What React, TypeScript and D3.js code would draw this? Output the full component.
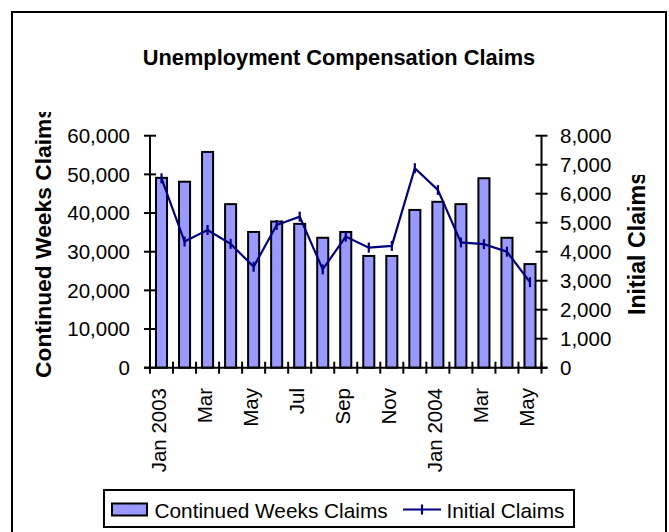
import React from "react";
import * as d3 from "d3";

const months = [
  "Jan 2003", "Feb", "Mar", "Apr", "May", "Jun", "Jul", "Aug", "Sep", "Oct", "Nov", "Dec",
  "Jan 2004", "Feb", "Mar", "Apr", "May",
];
const continuedWeeks = [
  49100, 48100, 55800, 42300, 35100, 37800, 37200, 33600, 35100, 28900, 28900, 40800,
  42900, 42300, 49000, 33600, 26800,
];
const initialClaims = [
  6530, 4350, 4750, 4270, 3480, 4920, 5210, 3390, 4520, 4140, 4200, 6880,
  6130, 4320, 4260, 4000, 2950,
];
const leftTicks = [0, 10000, 20000, 30000, 40000, 50000, 60000];
const rightTicks = [0, 1000, 2000, 3000, 4000, 5000, 6000, 7000, 8000];

const W = 669;
const H = 532;
const FONT = "'Liberation Sans', Arial, Helvetica, sans-serif";

export default function App() {
  const x0 = 150, x1 = 541.5, yTop = 135.7, yBot = 367.7;
  const idx = months.map((_, i) => i);
  const x = d3.scaleBand<number>().domain(idx).range([x0, x1]).paddingInner(0.52).paddingOuter(0.26);
  const step = x.step();
  const cx = (i: number) => (x(i) as number) + x.bandwidth() / 2;
  const yL = d3.scaleLinear().domain([0, 60000]).range([yBot, yTop]);
  const yR = d3.scaleLinear().domain([0, 8000]).range([yBot, yTop]);
  const fmt = d3.format(",");
  const line = d3.line<number>().x((_, i) => cx(i)).y((d) => yR(d));
  const bounds = d3.range(months.length + 1).map((i) => x0 + i * step);

  return (
    <div style={{ position: "fixed", left: 0, top: 0 }}>
      <svg width={W} height={H} style={{ display: "block" }} fontFamily={FONT}>
        <defs>
          <clipPath id="clipL">
            <rect x={0} y={112} width={100} height={400} />
          </clipPath>
          <clipPath id="clipR">
            <rect x={600} y={175} width={69} height={300} />
          </clipPath>
        </defs>
        <rect x={0} y={0} width={W} height={H} fill="#fff" />
        <rect x={12} y={12} width={654} height={560} fill="none" stroke="#000" strokeWidth={2} />
        <text x={339} y={65} textAnchor="middle" fontSize={21.8} fontWeight="bold">
          Unemployment Compensation Claims
        </text>

        {/* bars */}
        {continuedWeeks.map((v, i) => (
          <rect
            key={"b" + i}
            x={x(i) as number}
            y={yL(v)}
            width={x.bandwidth()}
            height={yBot - yL(v)}
            fill="#9999FF"
            stroke="#000"
            strokeWidth={2}
          />
        ))}

        {/* axes */}
        <line x1={x0} x2={x0} y1={yTop} y2={yBot} stroke="#000" strokeWidth={2} />
        <line x1={x1} x2={x1} y1={yTop} y2={yBot} stroke="#000" strokeWidth={2} />
        <line x1={x0 - 6} x2={x1 + 6} y1={yBot} y2={yBot} stroke="#000" strokeWidth={2} />
        {leftTicks.map((t) => (
          <g key={"lt" + t}>
            <line x1={x0 - 6} x2={x0 + 6} y1={yL(t)} y2={yL(t)} stroke="#000" strokeWidth={2} />
            <text x={130} y={yL(t)} dy="0.35em" textAnchor="end" fontSize={20.5}>
              {fmt(t)}
            </text>
          </g>
        ))}
        {rightTicks.map((t) => (
          <g key={"rt" + t}>
            <line x1={x1 - 6} x2={x1 + 6} y1={yR(t)} y2={yR(t)} stroke="#000" strokeWidth={2} />
            <text x={560} y={yR(t)} dy="0.35em" textAnchor="start" fontSize={20.5}>
              {fmt(t)}
            </text>
          </g>
        ))}
        {bounds.map((b, i) => (
          <line key={"xt" + i} x1={b} x2={b} y1={yBot - 6} y2={yBot + 6} stroke="#000" strokeWidth={2} />
        ))}
        {months.map((m, i) =>
          i % 2 === 0 ? (
            <text
              key={"xl" + i}
              transform={`translate(${cx(i) + 4},388) rotate(-90)`}
              textAnchor="end"
              fontSize={20.5}
            >
              {m}
            </text>
          ) : null
        )}

        {/* line */}
        <path d={line(initialClaims) || ""} fill="none" stroke="#000080" strokeWidth={2.2} />
        {initialClaims.map((v, i) => (
          <line key={"m" + i} x1={cx(i)} x2={cx(i)} y1={yR(v) - 5} y2={yR(v) + 5} stroke="#000080" strokeWidth={2.2} />
        ))}

        {/* axis titles */}
        <g clipPath="url(#clipL)">
          <text transform="translate(51,378) rotate(-90)" fontSize={22.8} fontWeight="bold">
            Continued Weeks Claims
          </text>
        </g>
        <g clipPath="url(#clipR)">
          <text transform="translate(645,315) rotate(-90)" fontSize={23.2} fontWeight="bold">
            Initial Claims
          </text>
        </g>

        {/* legend */}
        <rect x={104} y={490} width={470} height={37} fill="#fff" stroke="#000" strokeWidth={2} />
        <rect x={112} y={503.5} width={35} height={12} fill="#9999FF" stroke="#000" strokeWidth={2} />
        <text x={154.5} y={517.5} fontSize={20.8}>Continued Weeks Claims</text>
        <line x1={403} x2={441} y1={509.5} y2={509.5} stroke="#000080" strokeWidth={2.2} />
        <line x1={422} x2={422} y1={504.5} y2={514.5} stroke="#000080" strokeWidth={2.2} />
        <text x={446.5} y={517.5} fontSize={20.8}>Initial Claims</text>
      </svg>
    </div>
  );
}
